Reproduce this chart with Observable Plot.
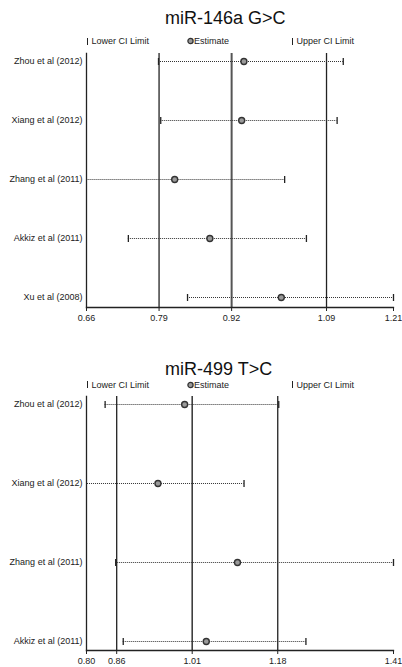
<!DOCTYPE html>
<html>
<head>
<meta charset="utf-8">
<script src="https://cdn.jsdelivr.net/npm/d3@7"></script>
<script src="https://cdn.jsdelivr.net/npm/@observablehq/plot@0.6"></script>
<style>
  html, body { margin: 0; padding: 0; background: #fff; }
  body { width: 402px; height: 667px; position: relative; overflow: hidden;
         font-family: "Liberation Sans", Arial, sans-serif; color: #222; }
  .panel { position: absolute; left: 0; width: 402px; }
  .title { position: absolute; left: 165px; font-size: 18px; line-height: 18px; color: #111; white-space: nowrap; }
  .legend { position: absolute; left: 0; width: 402px; height: 10px; font-size: 9px; line-height: 10px; }
  .legend .item { position: absolute; top: 0; display: flex; align-items: center; white-space: nowrap; height: 10px; }
  .bar { display: inline-block; width: 0; height: 7px; border-left: 1.4px solid #222; margin-right: 3.5px; }
  .legend svg { margin-right: 0.5px; }
  .chart { position: absolute; left: 0; }
</style>
</head>
<body>
<div id="root"></div>
<script>
// ---- Data: miR-146a G>C ----
const studies146 = ["Zhou et al (2012)", "Xiang et al (2012)", "Zhang et al (2011)", "Akkiz et al (2011)", "Xu et al (2008)"];
const est146   = [0.942, 0.938, 0.818, 0.881, 1.009];
const lower146 = [0.789, 0.793, 0.650, 0.735, 0.841];
const upper146 = [1.120, 1.109, 1.015, 1.054, 1.210];
const ticks146 = [0.66, 0.79, 0.92, 1.09, 1.21];
const pooled146 = [0.79, 0.92, 1.09]; // lower CI, estimate, upper CI

// ---- Data: miR-499 T>C ----
const studies499 = ["Zhou et al (2012)", "Xiang et al (2012)", "Zhang et al (2011)", "Akkiz et al (2011)"];
const est499   = [0.995, 0.942, 1.100, 1.038];
const lower499 = [0.837, 0.790, 0.858, 0.873];
const upper499 = [1.182, 1.113, 1.410, 1.236];
const ticks499 = [0.80, 0.86, 1.01, 1.18, 1.41];
const pooled499 = [0.86, 1.01, 1.18];

const titles = ["miR-146a G>C", "miR-499 T>C"];
const legendLabels = ["Lower CI Limit", "Estimate", "Upper CI Limit"];

// vertical cap symbol for CI limits
const capSymbol = {
  draw(ctx, size) {
    const h = Math.sqrt(size / Math.PI);
    ctx.moveTo(0, -h);
    ctx.lineTo(0, h);
  }
};

function forest(cfg) {
  const rows = cfg.studies.map((s, i) => ({study: s, est: cfg.est[i], lower: cfg.lower[i], upper: cfg.upper[i]}));
  const t = cfg.ticks;
  const lo = t[0], hi = t[t.length - 1];
  return Plot.plot({
    width: 402,
    height: cfg.height,
    marginLeft: 86,
    marginRight: 9,
    marginTop: cfg.marginTop,
    marginBottom: cfg.marginBottom,
    style: {fontFamily: "'Liberation Sans', Arial, sans-serif", fontSize: "9px", color: "#222", background: "white", overflow: "visible"},
    x: {domain: [lo, hi], ticks: t, tickFormat: d3.format(".2f"), tickSize: 4, tickPadding: 3, label: null},
    y: {type: "point", domain: cfg.studies, padding: 0, insetTop: cfg.insetTop, insetBottom: cfg.insetBottom, tickSize: 0, tickPadding: 4, label: null},
    marks: [
      Plot.ruleX([cfg.pooled[0], cfg.pooled[2]], {stroke: "#222", strokeWidth: 1.3}),
      Plot.ruleX([cfg.pooled[1]], {stroke: cfg.midStroke, strokeWidth: cfg.midWidth}),
      Plot.ruleY(rows, {y: "study", x1: "lower", x2: "upper", stroke: "#333", strokeWidth: 1, strokeDasharray: "1,1", clip: true}),
      Plot.dot(rows, {filter: d => d.lower >= lo, x: "lower", y: "study", symbol: capSymbol, r: 3.5, fill: "none", stroke: "#222", strokeWidth: 1.3}),
      Plot.dot(rows, {filter: d => d.upper <= hi, x: "upper", y: "study", symbol: capSymbol, r: 3.5, fill: "none", stroke: "#222", strokeWidth: 1.3}),
      Plot.dot(rows, {x: "est", y: "study", r: 3, fill: "#9a9a9a", stroke: "#333", strokeWidth: 1.4}),
      Plot.frame({anchor: "left", stroke: "#222", strokeWidth: 1.3}),
      Plot.frame({anchor: "bottom", stroke: "#222", strokeWidth: 1.3})
    ]
  });
}

function legendRow(top) {
  const lg = document.createElement("div");
  lg.className = "legend";
  lg.style.top = top + "px";
  const xs = [87, 186.5, 292];
  legendLabels.forEach((lab, i) => {
    const it = document.createElement("div");
    it.className = "item";
    it.style.left = xs[i] + "px";
    if (i === 1) {
      it.innerHTML = `<svg width="7" height="8"><circle cx="3.5" cy="4" r="2.6" fill="#9a9a9a" stroke="#333" stroke-width="1.3"/></svg>`;
    } else {
      it.innerHTML = `<span class="bar"></span>`;
    }
    it.appendChild(document.createTextNode(lab));
    lg.appendChild(it);
  });
  return lg;
}

const root = document.getElementById("root");
const panels = [
  {top: 0, titleTop: 9, legendTop: 36,
   plot: {studies: studies146, est: est146, lower: lower146, upper: upper146, ticks: ticks146, pooled: pooled146,
          height: 330, marginTop: 53, marginBottom: 23, insetTop: 7, insetBottom: 9, midStroke: "#555", midWidth: 2}},
  {top: 330, titleTop: 30, legendTop: 49.5,
   plot: {studies: studies499, est: est499, lower: lower499, upper: upper499, ticks: ticks499, pooled: pooled499,
          height: 337, marginTop: 66, marginBottom: 17, insetTop: 6.7, insetBottom: 8.3, midStroke: "#333", midWidth: 1.5}}
];
panels.forEach((p, k) => {
  const panel = document.createElement("div");
  panel.className = "panel";
  panel.style.top = p.top + "px";
  panel.style.height = p.plot.height + "px";
  const chart = forest(p.plot);
  chart.classList.add("chart");
  chart.style.top = "0px";
  panel.appendChild(chart);
  const tt = document.createElement("div");
  tt.className = "title";
  tt.style.top = p.titleTop + "px";
  tt.textContent = titles[k];
  panel.appendChild(tt);
  panel.appendChild(legendRow(p.legendTop));
  root.appendChild(panel);
});
</script>
</body>
</html>
